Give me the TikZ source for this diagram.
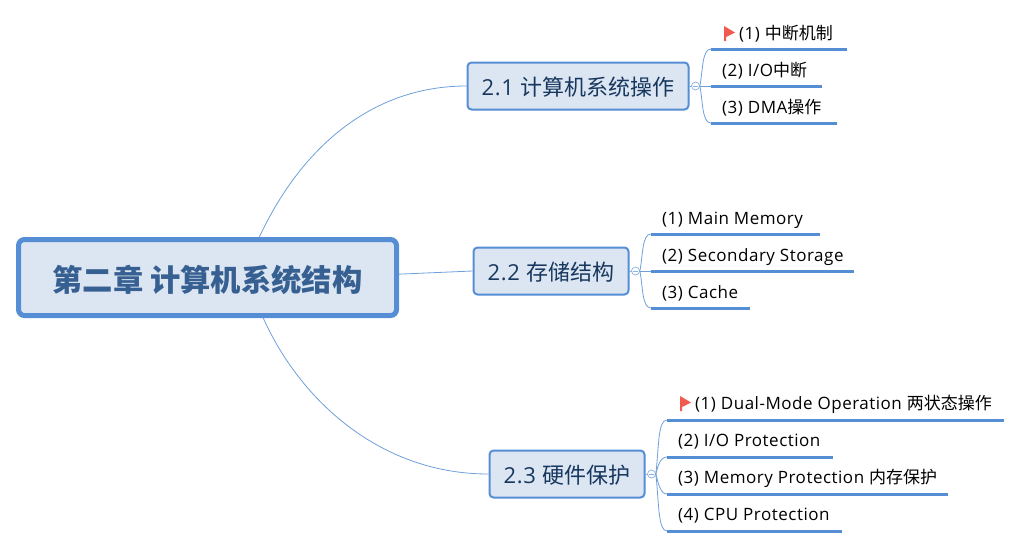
\documentclass[tikz,border=0pt]{standalone}
\usepackage{fontspec}
\setmainfont[LetterSpace=3]{Open Sans}
\newfontfamily\cjk{Noto Sans CJK SC}
\definecolor{mapblue}{HTML}{558ED5}
\definecolor{mapfill}{HTML}{DCE6F2}
\definecolor{maptext}{HTML}{376092}
\definecolor{sectext}{HTML}{17375E}
\definecolor{flagred}{HTML}{F15A4F}

\tikzset{
	rootbox/.style = {draw = mapblue, fill = mapfill, line width = 5pt, rounded corners = 6pt, text = maptext, font = \cjk\bfseries\fontsize{30.3}{30.3}\selectfont, text height = 28pt, text depth = 1pt, minimum width = 378pt, minimum height = 76pt},
	secbox/.style = {draw = mapblue, fill = mapfill, line width = 2pt, rounded corners = 4pt, text = sectext, font = \fontsize{22}{24}\selectfont, text height = 21pt, text depth = 3pt, minimum height = 47pt},
	hub/.style = {circle, draw = mapblue!70, fill = white, line width = 0.7pt, inner sep = 0pt, minimum size = 8pt,
		path picture = {\draw [mapblue!70, line width = 0.7pt] ([xshift = 1.5pt] path picture bounding box.west) -- ([xshift = -1.5pt] path picture bounding box.east);}},
	leaf/.style = {anchor = base west, inner sep = 0pt, text = black, font = \fontsize{17}{18}\selectfont},
	leafline/.style = {draw = mapblue, line width = 3pt},
	branch/.style = {draw = mapblue!85, line width = 0.8pt},
	flagmark/.pic = {
		\fill [flagred] (0, 0) -- (11, 6.5) -- (2, 11) -- (2, 15) -- (0, 15) -- cycle;
	}
}

\begin{document}
\begin{tikzpicture}[x = 1pt, y = -1pt]
\useasboundingbox (0, 0) rectangle (1022, 547);

% Root

\node (root) [rootbox] at (207.5, 277.5) {第二章 计算机系统结构};

% Sections

\node (sec1) [secbox, minimum width = 221pt] at (578, 86) {2.1 {\cjk 计算机系统操作}};
\node (sec2) [secbox, minimum width = 155pt] at (551, 271) {2.2 {\cjk 存储结构}};
\node (sec3) [secbox, minimum width = 155pt] at (567, 474) {2.3 {\cjk 硬件保护}};

\draw [branch] (root.38) .. controls (300, 150) and (370, 86) .. (sec1.west);
\draw [branch] (root.1.6) -- (sec2.west);
\draw [branch] (root.-36) .. controls (300, 400) and (380, 474) .. (sec3.west);

% Hubs

\node (hub1) [hub] at (695.5, 86) {};
\node (hub2) [hub] at (635.5, 271) {};
\node (hub3) [hub] at (651.5, 474) {};

\draw [branch] (sec1.east) -- (hub1);
\draw [branch] (sec2.east) -- (hub2);
\draw [branch] (sec3.east) -- (hub3);

% Section 2.1

\coordinate (a11) at (711, 49); \coordinate (b11) at (847, 49);
\coordinate (a12) at (711, 86); \coordinate (b12) at (822, 86);
\coordinate (a13) at (711, 123); \coordinate (b13) at (837, 123);

\node (leaf11) [leaf] at (739, 39) {(1) {\cjk 中断机制}};
\node (leaf12) [leaf] at (722, 76) {(2) I/O{\cjk 中断}};
\node (leaf13) [leaf] at (722, 113) {(3) DMA{\cjk 操作}};
\pic at (724, 26) {flagmark};

\draw [leafline] (a11) -- (b11);
\draw [leafline] (a12) -- (b12);
\draw [leafline] (a13) -- (b13);

\draw [branch] (hub1.east) .. controls (703, 70) and (702, 49) .. (a11);
\draw [branch] (hub1.east) -- (a12);
\draw [branch] (hub1.east) .. controls (703, 102) and (702, 123) .. (a13);

% Section 2.2

\coordinate (a21) at (651, 234); \coordinate (b21) at (820, 234);
\coordinate (a22) at (651, 271); \coordinate (b22) at (854, 271);
\coordinate (a23) at (651, 308); \coordinate (b23) at (750, 308);

\node (leaf21) [leaf] at (662, 224) {(1) Main Memory};
\node (leaf22) [leaf] at (662, 261) {(2) Secondary Storage};
\node (leaf23) [leaf] at (662, 298) {(3) Cache};

\draw [leafline] (a21) -- (b21);
\draw [leafline] (a22) -- (b22);
\draw [leafline] (a23) -- (b23);

\draw [branch] (hub2.east) .. controls (643, 255) and (642, 234) .. (a21);
\draw [branch] (hub2.east) -- (a22);
\draw [branch] (hub2.east) .. controls (643, 287) and (642, 308) .. (a23);

% Section 2.3

\coordinate (a31) at (667, 420); \coordinate (b31) at (1004, 420);
\coordinate (a32) at (667, 457); \coordinate (b32) at (833, 457);
\coordinate (a33) at (667, 494); \coordinate (b33) at (948, 494);
\coordinate (a34) at (667, 531); \coordinate (b34) at (842, 531);

\node (leaf31) [leaf] at (695, 409) {(1) Dual-Mode Operation {\cjk 两状态操作}};
\node (leaf32) [leaf] at (678, 446) {(2) I/O Protection};
\node (leaf33) [leaf] at (678, 483) {(3) Memory Protection {\cjk 内存保护}};
\node (leaf34) [leaf] at (678, 520) {(4) CPU Protection};
\pic at (680, 396) {flagmark};

\draw [leafline] (a31) -- (b31);
\draw [leafline] (a32) -- (b32);
\draw [leafline] (a33) -- (b33);
\draw [leafline] (a34) -- (b34);

\draw [branch] (hub3.east) .. controls (659, 445) and (658, 420) .. (a31);
\draw [branch] (hub3.east) .. controls (658, 466) and (660, 457) .. (a32);
\draw [branch] (hub3.east) .. controls (658, 482) and (660, 494) .. (a33);
\draw [branch] (hub3.east) .. controls (659, 503) and (658, 531) .. (a34);

\end{tikzpicture}
\end{document}
